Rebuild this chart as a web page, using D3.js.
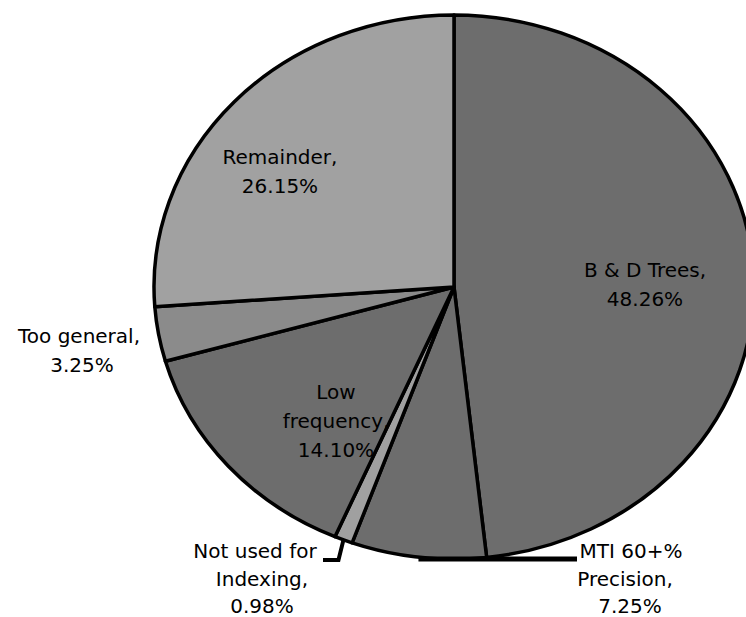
<!DOCTYPE html>
<html>
<head>
<meta charset="utf-8">
<script src="https://cdn.jsdelivr.net/npm/d3@7"></script>
<style>
  html, body { margin: 0; padding: 0; background: #fff; }
  svg { display: block; }
  text { font-family: "DejaVu Sans", Verdana, sans-serif; font-size: 20px; fill: #000; }
</style>
</head>
<body>
<svg id="chart" width="746" height="617"></svg>
<script>
// ---- data ----
const categories = ["B & D Trees", "MTI 60+% Precision", "Not used for Indexing", "Low frequency", "Too general", "Remainder"];
const values = [48.26, 7.25, 0.98, 14.10, 3.25, 26.15];
const valueLabels = ["48.26%", "7.25%", "0.98%", "14.10%", "3.25%", "26.15%"];
const labelLines = [
  ["B & D Trees,", "48.26%"],
  ["MTI 60+%", "Precision,", "7.25%"],
  ["Not used for", "Indexing,", "0.98%"],
  ["Low", "frequency,", "14.10%"],
  ["Too general,", "3.25%"],
  ["Remainder,", "26.15%"]
];
const colors = ["#6d6d6d", "#6d6d6d", "#a0a0a0", "#6d6d6d", "#8b8b8b", "#a1a1a1"];

// ---- layout (positions, not data) ----
const cx = 454, cy = 287, rx = 300, ry = 272;
const labelLayout = [
  { x: [645, 645], y: [277, 306] },
  { x: [631, 625, 630], y: [558, 586, 613] },
  { x: [255, 262, 262], y: [558, 586, 613] },
  { x: [336, 336, 336], y: [399, 428, 457] },
  { x: [79, 82], y: [343, 372] },
  { x: [280, 280], y: [164, 193] }
];

const svg = d3.select("#chart");
const data = categories.map((c, i) => ({ name: c, value: values[i], color: colors[i], lines: labelLines[i], layout: labelLayout[i] }));

const pie = d3.pie().sort(null).value(d => d.value).startAngle(0).endAngle(2 * Math.PI);
const arcs = pie(data);
const arc = d3.arc().innerRadius(0).outerRadius(ry);

const g = svg.append("g").attr("transform", `translate(${cx},${cy}) scale(${rx / ry},1)`);
g.selectAll("path.slice")
  .data(arcs)
  .enter().append("path")
  .attr("class", "slice")
  .attr("d", arc)
  .attr("fill", d => d.data.color)
  .attr("stroke", "#000")
  .attr("stroke-width", 3.5)
  .attr("stroke-linejoin", "round")
  .attr("vector-effect", "non-scaling-stroke");

// point on the elliptical rim at a pie angle
function rim(angle, f = 1) {
  return [cx + rx * f * Math.sin(angle), cy - ry * f * Math.cos(angle)];
}

// leader lines
const midMTI = (arcs[1].startAngle + arcs[1].endAngle) / 2;
const pMTI = rim(midMTI);
svg.append("path")
  .attr("d", d3.line()([[pMTI[0], 559], [577, 559]]))
  .attr("stroke", "#000").attr("stroke-width", 5).attr("fill", "none");

const midNU = (arcs[2].startAngle + arcs[2].endAngle) / 2;
const pNU = rim(midNU);
svg.append("path")
  .attr("d", d3.line()([pNU, [pNU[0] - 5, 560], [323, 560]]))
  .attr("stroke", "#000").attr("stroke-width", 4).attr("fill", "none")
  .attr("stroke-linejoin", "miter");

// labels
data.forEach(d => {
  d.lines.forEach((line, j) => {
    svg.append("text")
      .attr("x", d.layout.x[j])
      .attr("y", d.layout.y[j])
      .attr("text-anchor", "middle")
      .text(line);
  });
});
</script>
</body>
</html>
